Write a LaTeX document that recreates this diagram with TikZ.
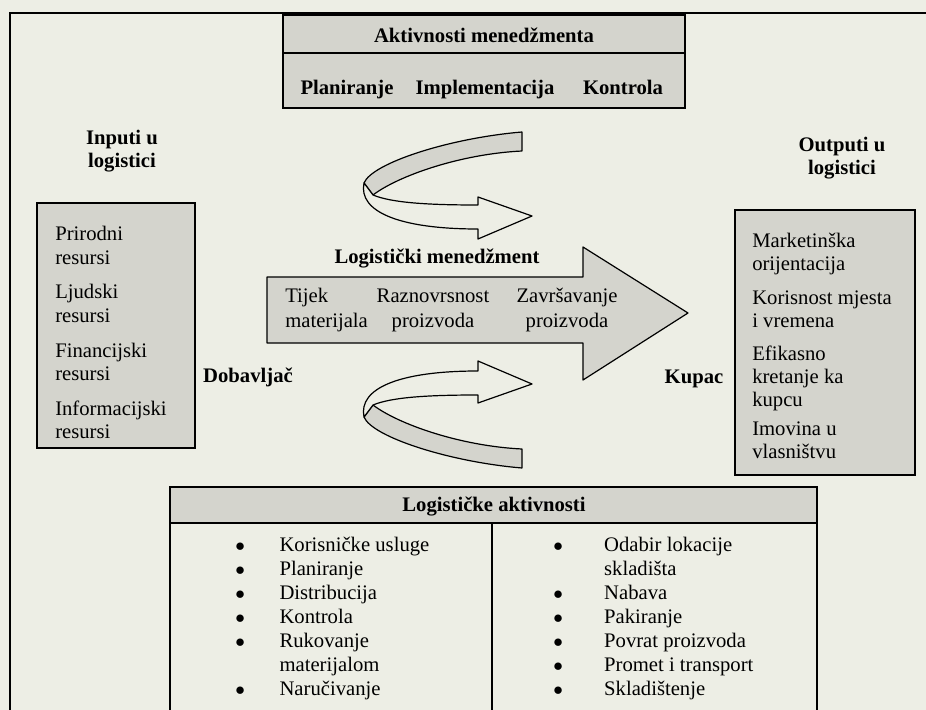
\documentclass[tikz,border=0pt]{standalone}
\usepackage{fontspec}
\setmainfont{Liberation Serif}
\usepackage{array}
\definecolor{paper}{RGB}{237,238,229}
\definecolor{boxgray}{RGB}{212,212,205}
\tikzset{
  box/.style={draw=black, line width=1.2pt, fill=boxgray},
  ribbon/.style={draw=black, line width=0.9pt, line join=round},
  title/.style={font=\fontsize{15.5}{17.6}\selectfont\bfseries, inner sep=0pt, align=center},
  body/.style={font=\fontsize{15.5}{17.6}\selectfont, inner sep=0pt, align=left},
  inarrow/.style={font=\fontsize{15.5}{18.5}\selectfont, inner sep=0pt, anchor=north},
  list/.style={font=\fontsize{15.5}{17.9}\selectfont, inner sep=0pt, anchor=north west},
}
\newcommand{\grp}{\\[8.5pt]}
\newcommand{\dotitem}{$\bullet$}

\begin{document}
\begin{tikzpicture}[x=0.75pt,y=-0.75pt]
	\path[use as bounding box] (0,0) rectangle (926,710);
	\fill[paper] (0,0) rectangle (926,710);
	\clip (0,0) rectangle (926,710);
	% outer frame
	\draw[line width=1.5pt] (10,13) rectangle (950,740);

	% management activities
	\filldraw[box] (283,15) rectangle (685,108);
	\draw[line width=1.2pt] (283,53) -- (685,53);
	\node[title, anchor=base] (mgmt) at (484,43) {Aktivnosti menedžmenta};
	\node[title, anchor=base] (plan) at (347,95) {Planiranje};
	\node[title, anchor=base] (impl) at (485,95) {Implementacija};
	\node[title, anchor=base] (ctrl) at (623,95) {Kontrola};

	% inputs
	\node[title] (inputs) at (122,151) {Inputi u\\logistici};
	\filldraw[box] (37,203) rectangle (195,448);
	\node[body, anchor=north west] (intext) at (55,226)
		{Prirodni\\resursi\grp Ljudski\\resursi\grp Financijski\\resursi\grp Informacijski\\resursi};
	\node[title, anchor=base] (supplier) at (248,382) {Dobavljač};

	% outputs
	\node[title] (outputs) at (842,158) {Outputi u\\logistici};
	\filldraw[box] (735,210) rectangle (915,475);
	\node[body, anchor=north west, font=\fontsize{15.5}{17.25}\selectfont] (outtext) at (752,233)
		{Marketinška\\orijentacija\\[8pt]Korisnost mjesta\\i vremena\\[8pt]Efikasno\\kretanje ka\\kupcu\\[4.5pt]Imovina u\\vlasništvu};
	\node[title, anchor=base] (customer) at (694,383) {Kupac};

	% logistics management arrow
	\node[title, anchor=base] (logmgmt) at (437,263) {Logistički menedžment};
	\filldraw[ribbon, fill=boxgray] (267,277) -- (583,277) -- (583,247) -- (688,313)
		-- (583,380) -- (583,343) -- (267,343) -- cycle;
	\node[inarrow, anchor=north west, align=left] (flow) at (285,285) {\strut Tijek\\materijala};
	\node[inarrow, align=center] (variety) at (433,285) {\strut Raznovrsnost\\proizvoda};
	\node[inarrow, align=center] (finish) at (567,285) {\strut Završavanje\\proizvoda};

	% upper loop
	\filldraw[ribbon, fill=boxgray] (522,132) .. controls (450,138) and (372,163) .. (364,183)
		-- (373,195) .. controls (398,176) and (460,154) .. (522,151) -- cycle;
	\filldraw[ribbon, fill=paper] (364,183) .. controls (358,212) and (400,229) .. (478,229)
		-- (478,239) -- (532,216) -- (478,197) -- (478,205)
		.. controls (430,205) and (392,203) .. (373,195) -- cycle;

	% lower loop
	\filldraw[ribbon, fill=boxgray] (522,468) .. controls (450,462) and (372,437) .. (364,417)
		-- (373,405) .. controls (398,424) and (460,446) .. (522,449) -- cycle;
	\filldraw[ribbon, fill=paper] (364,417) .. controls (358,388) and (400,371) .. (478,371)
		-- (478,361) -- (532,384) -- (478,403) -- (478,395)
		.. controls (430,395) and (392,397) .. (373,405) -- cycle;

	% logistics activities
	\filldraw[box, fill=paper] (170,487) rectangle (817,740);
	\filldraw[box] (170,487) rectangle (817,523);
	\draw[line width=1.2pt] (492,523) -- (492,740);
	\node[title, anchor=base] (logact) at (494,511) {Logističke aktivnosti};
	\node[list] (actleft) at (235,535) {%
		\begin{tabular}{@{}c@{\hspace{26pt}}l@{}}
		\dotitem & Korisničke usluge\\
		\dotitem & Planiranje\\
		\dotitem & Distribucija\\
		\dotitem & Kontrola\\
		\dotitem & Rukovanje\\
		         & materijalom\\
		\dotitem & Naručivanje
		\end{tabular}};
	\node[list] (actright) at (553,535) {%
		\begin{tabular}{@{}c@{\hspace{31pt}}l@{}}
		\dotitem & Odabir lokacije\\
		         & skladišta\\
		\dotitem & Nabava\\
		\dotitem & Pakiranje\\
		\dotitem & Povrat proizvoda\\
		\dotitem & Promet i transport\\
		\dotitem & Skladištenje
		\end{tabular}};
\end{tikzpicture}
\end{document}
